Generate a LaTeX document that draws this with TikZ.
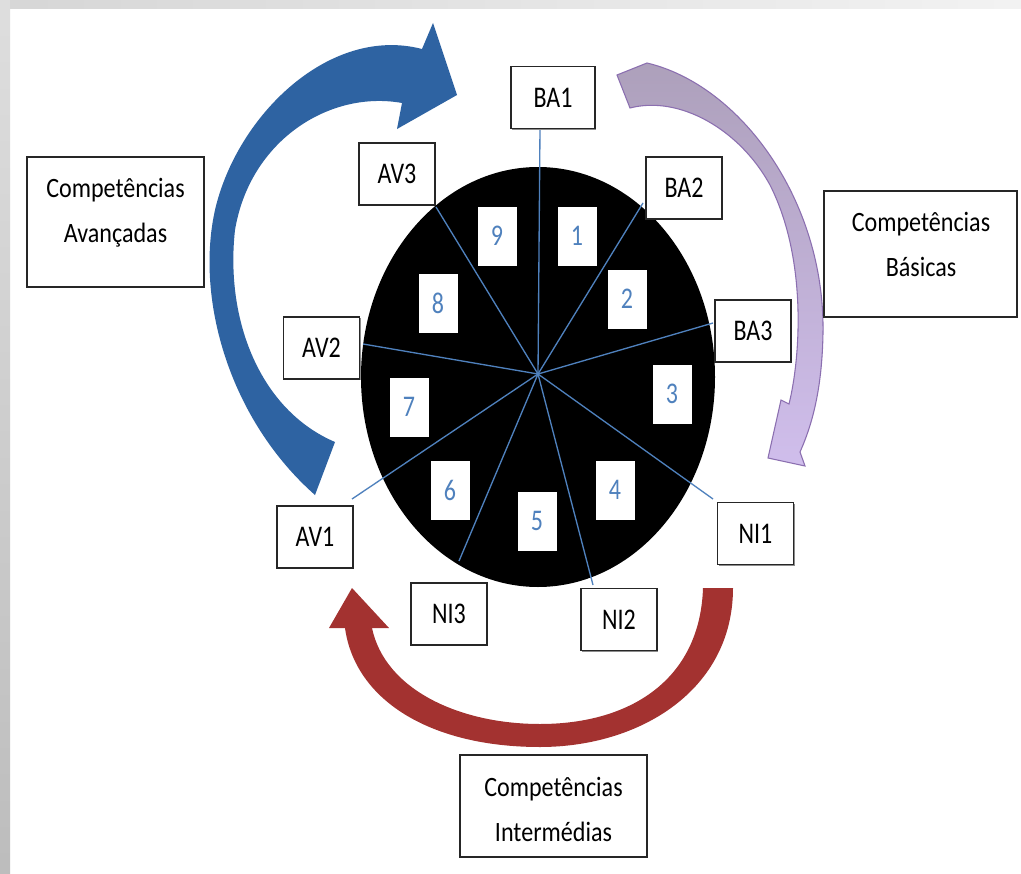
\documentclass[tikz,border=0pt]{standalone}
\usepackage{fontspec}
\setmainfont{Carlito}[FakeStretch=0.86]
\newfontfamily\labfont{Carlito}[FakeStretch=0.80]
\definecolor{spoke}{HTML}{4F81BD}
\definecolor{arrblue}{HTML}{2E63A2}
\definecolor{arrred}{HTML}{A33230}
\definecolor{purpA}{HTML}{ADA0BB}
\definecolor{purpB}{HTML}{D0BEEC}
\definecolor{purpline}{HTML}{8B6FB0}
\definecolor{boxline}{HTML}{262626}
\begin{document}
\begin{tikzpicture}[x=0.75pt,y=-0.75pt,
  boxshadow/.style={preaction={fill=black!45, transform canvas={xshift=0.9pt, yshift=-0.9pt}}},
  lab/.style={boxshadow, draw=boxline, line width=1pt, fill=white, minimum width=57pt, minimum height=46.5pt, inner sep=0pt, font=\labfont\fontsize{22.5}{26}\selectfont},
  num/.style={fill=white, minimum width=29.25pt, minimum height=44.25pt, inner sep=0pt, text=spoke, font=\labfont\fontsize{22.5}{26}\selectfont},
  bigbox/.style={boxshadow, draw=boxline, line width=1pt, fill=white, inner sep=0pt},
  bigtext/.style={align=center, inner sep=0pt, font=\fontsize{21}{33.75}\selectfont},
  spokeline/.style={draw=spoke, line width=1pt}]
\useasboundingbox (0,0) rectangle (1021,874);
\fill[white] (0,0) rectangle (1021,874);
% frame bands
\shade[left color=black!16, right color=black!5] (0,0) rectangle (1021,9);
\shade[top color=black!13, bottom color=black!26] (0,0) rectangle (10,874);

% blue arrow
\fill[arrblue] (315,495) .. controls (230,420) and (195,300) .. (215,210)
  .. controls (237,115) and (330,25) .. (422,49)
  -- (433,23) -- (457,95) -- (397,129) -- (402,103)
  .. controls (330,90) and (250,140) .. (235,230)
  .. controls (225,320) and (260,410) .. (335,442) -- cycle;

% purple arrow
\shade[top color=purpA, bottom color=purpB, draw=purpline, line width=0.8pt]
  (617,75) -- (647,63) .. controls (740,85) and (825,200) .. (823,333)
  .. controls (822,390) and (812,425) .. (800,452)
  -- (805,466) -- (768,458) -- (781,400) -- (789,404)
  .. controls (800,360) and (808,260) .. (770,185)
  .. controls (740,130) and (680,95) .. (630,108) -- cycle;

% red arrow
\fill[arrred] (329,628) -- (352,588) -- (389,628) -- (372,628)
  .. controls (385,690) and (460,724) .. (540,724)
  .. controls (630,724) and (700,680) .. (703,588)
  -- (733,588) .. controls (733,690) and (640,747) .. (540,747)
  .. controls (430,747) and (355,700) .. (345,628) -- cycle;

% wheel
\fill[black] (538,377) ellipse [x radius=177, y radius=210];
\coordinate (C) at (538,374);
\coordinate (eBA1) at (540,128);
\coordinate (eBA2) at (643,203);
\coordinate (eBA3) at (713,323);
\coordinate (eNI1) at (713,499);
\coordinate (eNI2) at (593,585);
\coordinate (eNI3) at (459,561);
\coordinate (eAV1) at (352,499);
\coordinate (eAV2) at (363,344);
\coordinate (eAV3) at (436,207);
\foreach \e in {eBA1,eBA2,eBA3,eNI1,eNI2,eNI3,eAV1,eAV2,eAV3}
  \draw[spokeline] (C) -- (\e);

% numbers
\node[num] (n1) at (577,236) {1};
\node[num] (n2) at (627,299) {2};
\node[num] (n3) at (672,394) {3};
\node[num] (n4) at (615,490) {4};
\node[num] (n5) at (537,521) {5};
\node[num] (n6) at (450,490) {6};
\node[num] (n7) at (409,407) {7};
\node[num] (n8) at (438,303) {8};
\node[num] (n9) at (497,236) {9};

% labels
\node[lab, minimum width=63pt] (BA1) at (553,97.5) {BA1};
\node[lab] (BA2) at (684,188) {BA2};
\node[lab] (BA3) at (753,331) {BA3};
\node[lab] (NI1) at (755.5,533.5) {NI1};
\node[lab] (NI2) at (619,619.5) {NI2};
\node[lab] (NI3) at (449,614) {NI3};
\node[lab] (AV1) at (315,537) {AV1};
\node[lab] (AV2) at (321.5,348) {AV2};
\node[lab] (AV3) at (397,174) {AV3};

% category boxes
\node[bigbox, minimum width=132.75pt, minimum height=97.5pt] (CAbox) at (115.5,222) {};
\node[bigtext] (CA) at (115.5,213) {Competências\\Avançadas};
\node[bigbox, minimum width=144.75pt, minimum height=94.5pt] (CBbox) at (920.5,254) {};
\node[bigtext] (CB) at (921,244) {Competências\\Básicas};
\node[bigbox, minimum width=140.25pt, minimum height=76.5pt] (CIbox) at (553.5,806) {};
\node[bigtext] (CI) at (553.5,809) {Competências\\Intermédias};
\end{tikzpicture}
\end{document}
